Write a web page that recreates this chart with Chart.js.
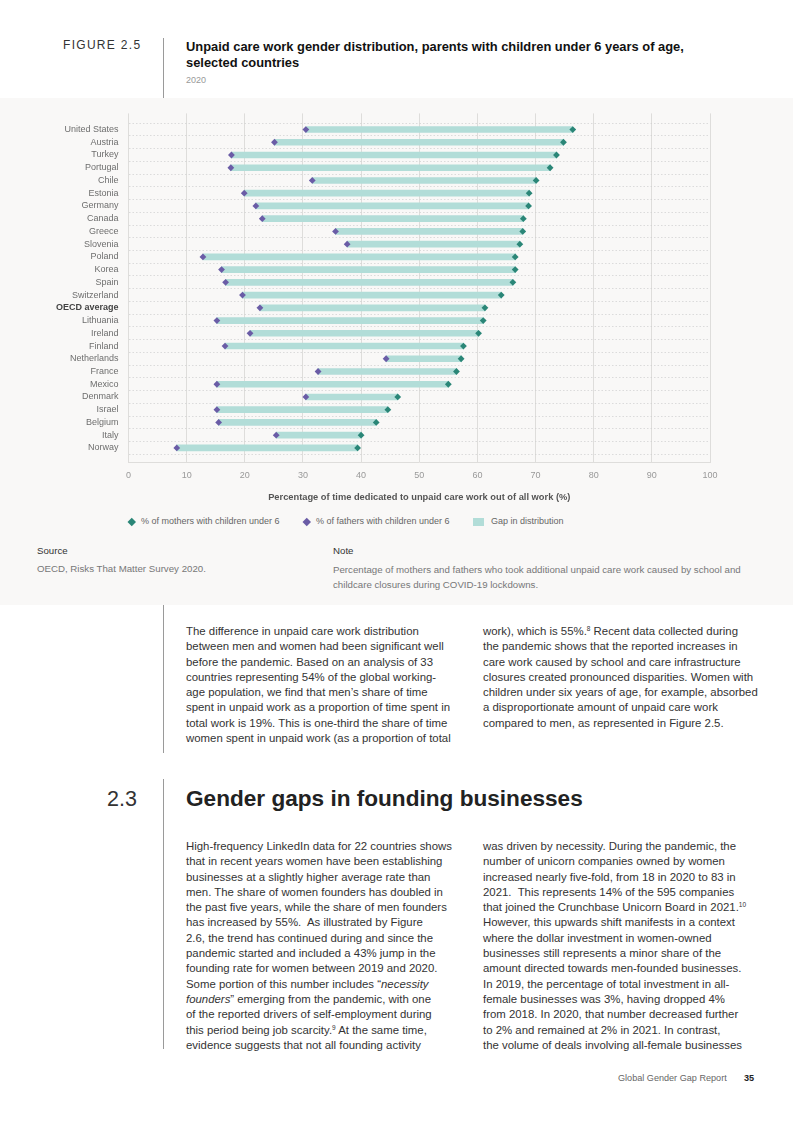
<!DOCTYPE html>
<html>
<head>
<meta charset="utf-8">
<script src="https://cdn.jsdelivr.net/npm/chart.js@4.4.0/dist/chart.umd.min.js"></script>
<style>
  body { margin: 0; width: 793px; height: 1122px; position: relative; background: #fff;
         font-family: "Liberation Sans", Arial, sans-serif; color: #333; overflow: hidden; }
  .abs { position: absolute; white-space: nowrap; }
  .vline { position: absolute; width: 1px; background: #9a9a9a; }
  #panel { position: absolute; left: 0; top: 98px; width: 793px; height: 507px; background: #f9f8f7; }
  #chartBox { position: absolute; left: 0; top: 98px; width: 793px; height: 405px; }
  .body { font-size: 11.4px; line-height: 15.3px; color: #333; }
  .body sup { font-size: 6.5px; line-height: 0; vertical-align: 4px; }
  .leg { font-size: 9px; color: #666; }
  .dia { position: absolute; width: 5.5px; height: 5.5px; transform: rotate(45deg); }
</style>
</head>
<body>

<div class="abs" style="left:63px;top:38px;font-size:12px;letter-spacing:1.3px;color:#333;">FIGURE 2.5</div>
<div class="vline" style="left:163px;top:38px;height:60px;"></div>
<div class="abs" style="left:186px;top:39px;font-size:12.9px;line-height:16px;font-weight:bold;color:#111;">Unpaid care work gender distribution, parents with children under 6 years of age,<br>selected countries</div>
<div class="abs" style="left:186px;top:75px;font-size:9px;color:#999;">2020</div>

<div id="panel"></div>
<div id="chartBox"><canvas id="chart"></canvas></div>

<div class="dia" style="left:129px;top:519px;background:#2a8677;"></div>
<div class="abs leg" style="left:141px;top:516px;">% of mothers with children under 6</div>
<div class="dia" style="left:304px;top:519px;background:#6a5ca6;"></div>
<div class="abs leg" style="left:316px;top:516px;">% of fathers with children under 6</div>
<div style="position:absolute;left:473px;top:518px;width:11px;height:8px;background:#b2ddd8;"></div>
<div class="abs leg" style="left:491px;top:516px;">Gap in distribution</div>

<div class="abs" style="left:37px;top:545px;font-size:9.7px;color:#333;">Source</div>
<div class="abs" style="left:37px;top:563px;font-size:9.7px;color:#777;">OECD, Risks That Matter Survey 2020.</div>
<div class="abs" style="left:333px;top:545px;font-size:9.7px;color:#333;">Note</div>
<div class="abs" style="left:333px;top:562px;font-size:9.7px;line-height:15px;color:#777;">Percentage of mothers and fathers who took additional unpaid care work caused by school and<br>childcare closures during COVID-19 lockdowns.</div>

<div class="vline" style="left:163px;top:605px;height:148px;"></div>
<div class="abs body" style="left:186px;top:624px;">The difference in unpaid care work distribution<br>between men and women had been significant well<br>before the pandemic. Based on an analysis of 33<br>countries representing 54% of the global working-<br>age population, we find that men’s share of time<br>spent in unpaid work as a proportion of time spent in<br>total work is 19%. This is one-third the share of time<br>women spent in unpaid work (as a proportion of total</div>
<div class="abs body" style="left:483px;top:624px;">work), which is 55%.<sup>8</sup> Recent data collected during<br>the pandemic shows that the reported increases in<br>care work caused by school and care infrastructure<br>closures created pronounced disparities. Women with<br>children under six years of age, for example, absorbed<br>a disproportionate amount of unpaid care work<br>compared to men, as represented in Figure 2.5.</div>

<div class="abs" style="left:107px;top:787px;font-size:21.5px;color:#333;">2.3</div>
<div class="vline" style="left:163px;top:779px;height:270px;"></div>
<div class="abs" style="left:186px;top:786px;font-size:22.6px;font-weight:bold;color:#222;">Gender gaps in founding businesses</div>

<div class="abs body" style="left:186px;top:839px;">High-frequency LinkedIn data for 22 countries shows<br>that in recent years women have been establishing<br>businesses at a slightly higher average rate than<br>men. The share of women founders has doubled in<br>the past five years, while the share of men founders<br>has increased by 55%.&nbsp; As illustrated by Figure<br>2.6, the trend has continued during and since the<br>pandemic started and included a 43% jump in the<br>founding rate for women between 2019 and 2020.<br>Some portion of this number includes “<i>necessity</i><br><i>founders</i>” emerging from the pandemic, with one<br>of the reported drivers of self-employment during<br>this period being job scarcity.<sup>9</sup> At the same time,<br>evidence suggests that not all founding activity</div>
<div class="abs body" style="left:483px;top:839px;">was driven by necessity. During the pandemic, the<br>number of unicorn companies owned by women<br>increased nearly five-fold, from 18 in 2020 to 83 in<br>2021.&nbsp; This represents 14% of the 595 companies<br>that joined the Crunchbase Unicorn Board in 2021.<sup>10</sup><br>However, this upwards shift manifests in a context<br>where the dollar investment in women-owned<br>businesses still represents a minor share of the<br>amount directed towards men-founded businesses.<br>In 2019, the percentage of total investment in all-<br>female businesses was 3%, having dropped 4%<br>from 2018. In 2020, that number decreased further<br>to 2% and remained at 2% in 2021. In contrast,<br>the volume of deals involving all-female businesses</div>

<div class="abs" style="left:618px;top:1073px;font-size:9.1px;color:#666;">Global Gender Gap Report</div>
<div class="abs" style="left:744px;top:1073px;font-size:9.1px;font-weight:bold;color:#222;">35</div>

<script>
// data
let countries = ["United States", "Austria", "Turkey", "Portugal", "Chile", "Estonia", "Germany",
    "Canada", "Greece", "Slovenia", "Poland", "Korea", "Spain", "Switzerland", "OECD average",
    "Lithuania", "Ireland", "Finland", "Netherlands", "France", "Mexico", "Denmark", "Israel",
    "Belgium", "Italy", "Norway"];

let mothers = [76.4, 74.8, 73.6, 72.5, 70.1, 68.9, 68.8, 67.9, 67.8, 67.3, 66.5, 66.5, 66.1,
    64.1, 61.3, 61.0, 60.2, 57.6, 57.2, 56.4, 55.0, 46.3, 44.6, 42.6, 40.0, 39.4];

let fathers = [30.5, 25.1, 17.7, 17.6, 31.6, 19.9, 21.9, 23.0, 35.6, 37.6, 12.8, 16.0, 16.7,
    19.6, 22.6, 15.2, 20.9, 16.6, 44.3, 32.6, 15.2, 30.5, 15.2, 15.5, 25.4, 8.3];

let xTicks = [0, 10, 20, 30, 40, 50, 60, 70, 80, 90, 100];

let teal = '#2a8677';
let purple = '#6a5ca6';
let gapColor = '#b2ddd8';

Chart.defaults.font.family = "'Liberation Sans', Arial, sans-serif";
Chart.defaults.font.size = 9;

let gapData = countries.map((c, i) => ({ x: [fathers[i], mothers[i]], y: i }));
let motherData = countries.map((c, i) => ({ x: mothers[i], y: i }));
let fatherData = countries.map((c, i) => ({ x: fathers[i], y: i }));

let ctx = document.getElementById('chart');
let chart = new Chart(ctx, {
    type: 'bar',
    data: {
        datasets: [
            {
                label: 'Gap in distribution',
                data: gapData,
                backgroundColor: gapColor,
                barThickness: 6,
                borderSkipped: false,
                order: 3
            },
            {
                type: 'line',
                label: '% of mothers with children under 6',
                data: motherData,
                showLine: false,
                pointStyle: 'rectRot',
                pointRadius: 3.4,
                pointBackgroundColor: teal,
                pointBorderWidth: 0,
                order: 1
            },
            {
                type: 'line',
                label: '% of fathers with children under 6',
                data: fatherData,
                showLine: false,
                pointStyle: 'rectRot',
                pointRadius: 3.4,
                pointBackgroundColor: purple,
                pointBorderWidth: 0,
                order: 2
            }
        ]
    },
    options: {
        indexAxis: 'y',
        responsive: true,
        maintainAspectRatio: false,
        animation: false,
        layout: { padding: { top: 15, right: 83, left: 0, bottom: 0 } },
        plugins: { legend: { display: false }, tooltip: { enabled: false } },
        scales: {
            x: {
                type: 'linear',
                min: 0,
                max: 100,
                afterBuildTicks: (s) => { s.ticks = xTicks.map(v => ({ value: v })); },
                afterFit: (s) => { s.height = 41; },
                ticks: { color: '#999', padding: 8, font: { size: 9 } },
                grid: { color: '#dedddb', lineWidth: 1, drawTicks: false },
                border: { display: true, color: '#dedddb' },
                title: {
                    display: true,
                    text: 'Percentage of time dedicated to unpaid care work out of all work (%)',
                    color: '#555',
                    font: { size: 9.3, weight: 'bold' },
                    padding: 0
                }
            },
            y: {
                type: 'linear',
                reverse: true,
                min: -0.74,
                max: 25.58,
                afterBuildTicks: (s) => { s.ticks = countries.map((c, i) => ({ value: i })); },
                afterFit: (s) => { s.width = 128.5; },
                ticks: {
                    padding: 10,
                    autoSkip: false,
                    callback: (v) => countries[v],
                    color: (c) => countries[c.index] === 'OECD average' ? '#444' : '#6e6e6e',
                    font: (c) => countries[c.index] === 'OECD average'
                        ? { size: 9, weight: 'bold' } : { size: 9 }
                },
                grid: { color: '#cfcfcf', lineWidth: 0.7, drawTicks: false, borderDash: [1.5, 2] },
                border: { display: false, dash: [1.5, 2] }
            }
        }
    }
});
</script>
</body>
</html>
